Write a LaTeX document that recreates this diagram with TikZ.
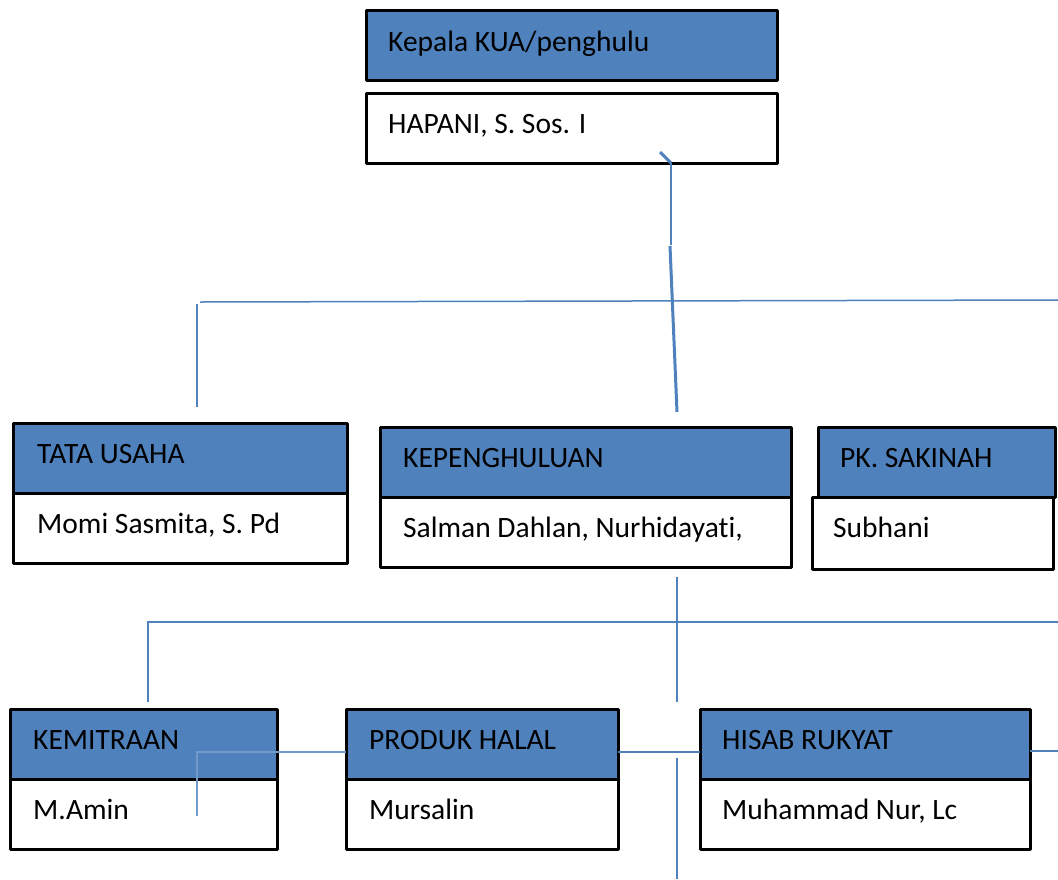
\documentclass[tikz,border=0pt]{standalone}
\usepackage{fontspec}
\setmainfont[Ligatures=NoCommon]{Carlito}
\definecolor{hdrblue}{HTML}{4F81BD}
\definecolor{lnblue}{HTML}{4F81BD}
\begin{document}
\begin{tikzpicture}[x=1pt,y=-1pt,
  cell/.style={draw=black,line width=3pt,rectangle,inner sep=0pt,outer sep=0pt,anchor=north west,line join=round},
  hdr/.style={cell,fill=hdrblue},
  nm/.style={cell,fill=white},
  lbl/.style={anchor=base west,inner sep=0pt,font=\fontsize{29.5}{34}\selectfont},
  conn/.style={draw=lnblue,line width=1.5pt},
  connthick/.style={draw=lnblue,line width=3pt}]
\useasboundingbox (0,0) rectangle (1058,879);
\fill[white] (0,0) rectangle (1058,879);
% Kepala
\node[nm,minimum width=411pt,minimum height=70pt] (kepN) at (366,93) {};
\node[hdr,minimum width=411pt,minimum height=70pt] (kepH) at (366,10) {};
\node[lbl] (kepHt) at (388,51) {Kepala KUA/penghulu};
\node[lbl] (kepNt) at (388,133) {HAPANI, S. Sos. I};
% Tata Usaha
\node[nm,minimum width=334pt,minimum height=70pt] (tuN) at (13,493) {};
\node[hdr,minimum width=334pt,minimum height=70pt] (tuH) at (13,423) {};
\node[lbl] (tuHt) at (37,463) {TATA USAHA};
\node[lbl] (tuNt) at (37,533) {Momi Sasmita, S. Pd};
% Kepenghuluan
\node[nm,minimum width=411pt,minimum height=70pt] (kpN) at (380,497) {};
\node[hdr,minimum width=411pt,minimum height=70pt] (kpH) at (380,427) {};
\node[lbl] (kpHt) at (403,467) {KEPENGHULUAN};
\node[lbl] (kpNt) at (403,537) {Salman Dahlan, Nurhidayati,};
% PK Sakinah
\node[nm,minimum width=241pt,minimum height=72pt] (pkN) at (812,497) {};
\node[hdr,minimum width=237pt,minimum height=70pt] (pkH) at (818,427) {};
\node[lbl] (pkHt) at (840,467) {PK. SAKINAH};
\node[lbl] (pkNt) at (833,537) {Subhani};
% Kemitraan
\node[nm,minimum width=267pt,minimum height=70pt] (kmN) at (10,779) {};
\node[hdr,minimum width=267pt,minimum height=70pt] (kmH) at (10,709) {};
\node[lbl] (kmHt) at (33,749) {KEMITRAAN};
\node[lbl] (kmNt) at (33,819) {M.Amin};
% Produk Halal
\node[nm,minimum width=272pt,minimum height=70pt] (phN) at (346,779) {};
\node[hdr,minimum width=272pt,minimum height=70pt] (phH) at (346,709) {};
\node[lbl] (phHt) at (369,749) {PRODUK HALAL};
\node[lbl] (phNt) at (369,819) {Mursalin};
% Hisab Rukyat
\node[nm,minimum width=330pt,minimum height=70pt] (hrN) at (700,779) {};
\node[hdr,minimum width=330pt,minimum height=70pt] (hrH) at (700,709) {};
\node[lbl] (hrHt) at (722,749) {HISAB RUKYAT};
\node[lbl] (hrNt) at (722,819) {Muhammad Nur, Lc};
% connector points
\coordinate (t1) at (660,152);
\coordinate (t2) at (671,163);
\coordinate (t3) at (671,245);
\coordinate (t4) at (670,246);
\coordinate (t5) at (677,412);
\coordinate (h1) at (200,302);
\coordinate (h2) at (1058,300);
\coordinate (v1a) at (197,304);
\coordinate (v1b) at (197,407);
\coordinate (m1) at (677,577);
\coordinate (m2) at (677,702);
\coordinate (g1) at (148,702);
\coordinate (g2) at (148,622);
\coordinate (g3) at (1058,622);
\coordinate (b1) at (197,816);
\coordinate (b2) at (197,752);
\coordinate (b3) at (346,752);
\coordinate (b4) at (618,752);
\coordinate (b5) at (700,752);
\coordinate (b6) at (1030,751);
\coordinate (b7) at (1058,751);
\coordinate (d1) at (677,758);
\coordinate (d2) at (677,879);
% connectors
\draw[connthick] (t1) -- (t2);
\draw[conn] (t2) -- (t3);
\draw[connthick] (t4) -- (t5);
\draw[conn] (h1) -- (h2);
\draw[conn] (v1a) -- (v1b);
\draw[conn] (m1) -- (m2);
\draw[conn] (g1) -- (g2) -- (g3);
\draw[conn,draw=lnblue!80!white] (b1) -- (b2) -- (b3);
\draw[conn] (b4) -- (b5);
\draw[conn] (b6) -- (b7);
\draw[conn] (d1) -- (d2);
\end{tikzpicture}
\end{document}
